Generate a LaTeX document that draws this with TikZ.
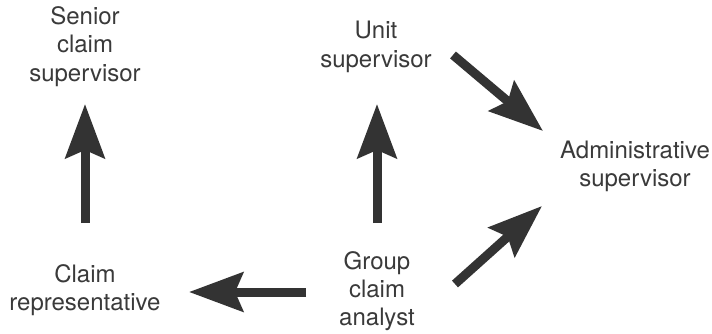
\documentclass[tikz,border=0pt]{standalone}
\usepackage{fontspec}
\setmainfont{TeX Gyre Heros}
\usetikzlibrary{arrows.meta}
\definecolor{ink}{HTML}{333333}
\definecolor{txt}{HTML}{3A3A3A}
\begin{document}
\begin{tikzpicture}[x=1pt,y=-1pt,
  role/.style={align=center,text=txt,inner sep=0pt,
    font=\fontsize{24}{28.3}\selectfont},
  flow/.style={draw=ink,line width=9pt,
    -{Stealth[length=54pt,width=39pt,inset=8pt]}}]
\useasboundingbox[fill=white] (0,0) rectangle (712,334);

% positions
\node[role] (senior) at (85,46.5) {Senior\\claim\\supervisor};
\node[role] (rep)    at (85,290) {Claim\\representative};
\node[role] (unit)   at (376,47) {Unit\\supervisor};
\node[role] (group)  at (377,291) {Group\\claim\\analyst};
\node[role] (admin)  at (635,166.5) {Administrative\\supervisor};

% arrow end points
\coordinate (r0) at (85,223);   \coordinate (r1) at (85,104);
\coordinate (g0) at (306,292);  \coordinate (g1) at (189,292);
\coordinate (u0) at (377,223);  \coordinate (u1) at (377,104);
\coordinate (d0) at (453,55);   \coordinate (d1) at (543,131);
\coordinate (e0) at (455,284);  \coordinate (e1) at (542,206);

% reporting lines
\draw[flow] (r0) -- (r1);
\draw[flow] (g0) -- (g1);
\draw[flow] (u0) -- (u1);
\draw[flow] (d0) -- (d1);
\draw[flow] (e0) -- (e1);
\end{tikzpicture}
\end{document}
